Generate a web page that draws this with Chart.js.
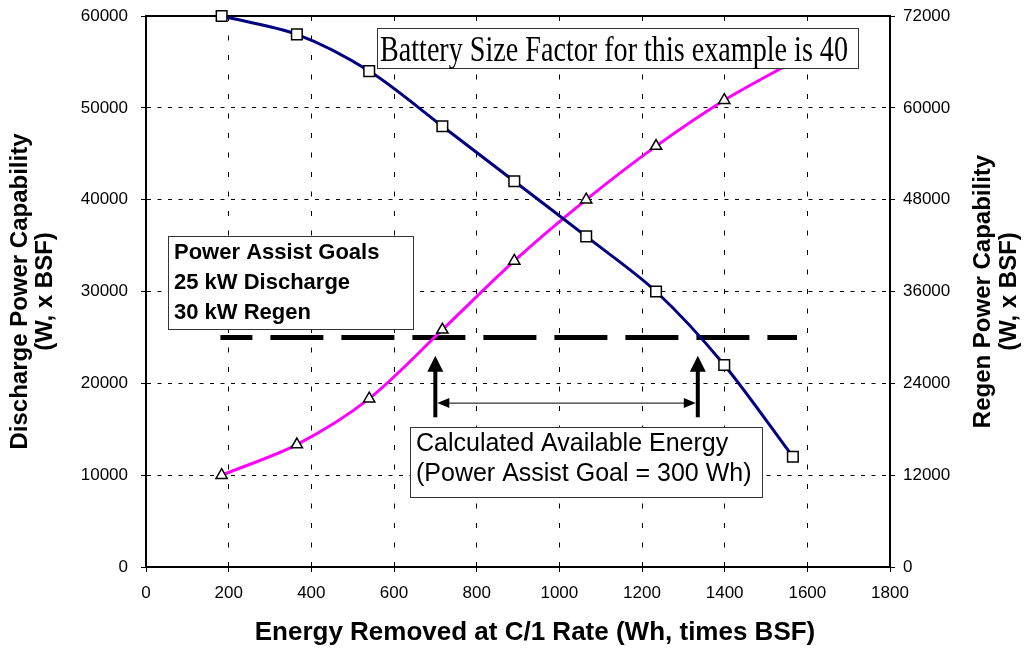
<!DOCTYPE html>
<html>
<head>
<meta charset="utf-8">
<script src="https://cdn.jsdelivr.net/npm/chart.js@4.4.0/dist/chart.umd.min.js"></script>
<style>
    html, body { margin: 0; padding: 0; background: #fff; }
    #wrap { width: 1029px; height: 651px; }
</style>
</head>
<body>
<div id="wrap"><canvas id="grafico"></canvas></div>
<script>
// energy removed at each test point (Wh, times BSF)
var energy = [183, 365, 540, 717, 891, 1065, 1234, 1399, 1565];
// discharge power, left axis (W, x BSF)
var discharge = [60000, 58000, 54000, 48000, 42000, 36000, 30000, 22000, 12000];
// regen power, right axis (W, x BSF)
var regen = [12000, 16000, 22000, 31000, 40000, 48000, 55000, 61000, 66000];

// 25 kW power assist goal line
var goalX = [180, 1575];
var goalY = [25000, 25000];

// where the available energy arrows sit (data units)
var arrowX = [700, 1335];
var arrowY = [16300, 23000];
var spanY = 17900;

var xTicks = [0, 200, 400, 600, 800, 1000, 1200, 1400, 1600, 1800];
var yTicks = [0, 10000, 20000, 30000, 40000, 50000, 60000];
var y2Ticks = [0, 12000, 24000, 36000, 48000, 60000, 72000];

var sans = '"Liberation Sans", Arial, sans-serif';

function toPoints(xs, ys) {
    return xs.map(function(v, i) { return { x: v, y: ys[i] }; });
}

function setTicks(list) {
    return function(scale) {
        scale.ticks = list.map(function(v) { return { value: v }; });
    };
}

// fixed axis width, and no extra room for the end labels
function fixWidth(w) {
    return function(s) {
        s.width = w;
        s.paddingTop = 0;
        s.paddingBottom = 0;
    };
}

function box(ctx, l, t, r, b) {
    ctx.fillStyle = '#fff';
    ctx.fillRect(l, t, r - l, b - t);
    ctx.strokeStyle = '#333';
    ctx.lineWidth = 1;
    ctx.strokeRect(l + 0.5, t + 0.5, r - l, b - t);
}

function upArrow(ctx, x, yBottom, yTip) {
    ctx.fillStyle = '#000';
    ctx.fillRect(x - 2, yTip + 14, 4, yBottom - yTip - 14);
    ctx.beginPath();
    ctx.moveTo(x, yTip);
    ctx.lineTo(x - 8, yTip + 16);
    ctx.lineTo(x + 8, yTip + 16);
    ctx.closePath();
    ctx.fill();
}

function sideHead(ctx, tipX, y, dir) {
    ctx.beginPath();
    ctx.moveTo(tipX, y);
    ctx.lineTo(tipX + dir * 12, y - 5);
    ctx.lineTo(tipX + dir * 12, y + 5);
    ctx.closePath();
    ctx.fill();
}

var annotations = {
    id: 'annotations',
    beforeDatasetsDraw: function(chart) {
        var ctx = chart.ctx;
        var a = chart.chartArea;
        ctx.save();
        ctx.strokeStyle = '#000';
        ctx.lineWidth = 2;
        ctx.beginPath();
        ctx.moveTo(a.left, a.top);
        ctx.lineTo(a.right, a.top);
        ctx.stroke();
        ctx.restore();
    },
    afterDatasetsDraw: function(chart) {
        var ctx = chart.ctx;
        var xs = chart.scales.x, ys = chart.scales.y;
        var a = chart.chartArea;
        ctx.save();

        // arrows for the calculated energy
        var x1 = xs.getPixelForValue(arrowX[0]);
        var x2 = xs.getPixelForValue(arrowX[1]);
        var yb = ys.getPixelForValue(arrowY[0]);
        var yt = ys.getPixelForValue(arrowY[1]);
        var ym = ys.getPixelForValue(spanY);
        upArrow(ctx, x1, yb, yt);
        upArrow(ctx, x2, yb, yt);
        ctx.strokeStyle = '#000';
        ctx.lineWidth = 1;
        ctx.beginPath();
        ctx.moveTo(x1 + 12, ym + 0.5);
        ctx.lineTo(x2 - 12, ym + 0.5);
        ctx.stroke();
        sideHead(ctx, x1 + 2, ym + 0.5, 1);
        sideHead(ctx, x2 - 2, ym + 0.5, -1);

        // battery size factor note (narrow serif, squeezed to fit the box)
        box(ctx, 377, 28, 858, 68);
        ctx.fillStyle = '#000';
        ctx.font = '35px "Liberation Serif", "Times New Roman", serif';
        ctx.textBaseline = 'alphabetic';
        ctx.textAlign = 'left';
        var note = 'Battery Size Factor for this example is 40';
        var w = ctx.measureText(note).width;
        ctx.save();
        ctx.translate(380, 61);
        ctx.scale(468 / w, 1);
        ctx.fillText(note, 0, 0);
        ctx.restore();

        // power assist goals
        box(ctx, 168, 236, 413, 329);
        ctx.fillStyle = '#000';
        ctx.font = 'bold 22px ' + sans;
        ctx.textBaseline = 'middle';
        ctx.fillText('Power Assist Goals', 174, 253);
        ctx.fillText('25 kW Discharge', 174, 283);
        ctx.fillText('30 kW Regen', 174, 313);

        // calculated energy
        box(ctx, 410, 427, 762, 497);
        ctx.fillStyle = '#000';
        ctx.font = '25px ' + sans;
        ctx.fillText('Calculated Available Energy', 416, 444);
        ctx.fillText('(Power Assist Goal = 300 Wh)', 416, 474);

        // x axis title, a little right of centre as in the source
        ctx.font = 'bold 26px ' + sans;
        ctx.textAlign = 'center';
        ctx.fillText('Energy Removed at C/1 Rate (Wh, times BSF)', 535, 633);

        // right axis title, read bottom to top like the left one
        ctx.font = 'bold 24px ' + sans;
        ctx.translate(a.right + 93, (a.top + a.bottom) / 2);
        ctx.rotate(-Math.PI / 2);
        ctx.fillText('Regen Power Capability', 0, 0);
        ctx.fillText('(W, x BSF)', 0, 26);
        ctx.restore();
    }
};

var ctx = document.getElementById('grafico');

new Chart(ctx, {
    type: 'line',
    data: {
        datasets: [{
            label: 'Discharge',
            data: toPoints(energy, discharge),
            yAxisID: 'y',
            borderColor: '#000080',
            borderWidth: 3,
            tension: 0.3,
            pointStyle: 'rect',
            pointRadius: 7.5,
            pointBorderWidth: 1.5,
            pointBorderColor: '#000',
            pointBackgroundColor: '#fff',
            clip: false
        }, {
            label: 'Regen',
            data: toPoints(energy, regen),
            yAxisID: 'y2',
            borderColor: '#ff00ff',
            borderWidth: 3,
            tension: 0.3,
            pointStyle: 'triangle',
            pointRadius: 6.5,
            pointBorderWidth: 1.5,
            pointBorderColor: '#000',
            pointBackgroundColor: '#fff',
            clip: false
        }, {
            label: 'Goal',
            data: toPoints(goalX, goalY),
            yAxisID: 'y',
            borderColor: '#000',
            borderWidth: 5,
            borderDash: [53, 18],
            borderDashOffset: 21,
            borderCapStyle: 'butt',
            pointRadius: 0,
            tension: 0
        }]
    },
    options: {
        responsive: true,
        maintainAspectRatio: false,
        animation: false,
        events: [],
        layout: { padding: { top: 16, left: 0, right: 0, bottom: 0 } },
        plugins: {
            legend: { display: false },
            tooltip: { enabled: false }
        },
        scales: {
            x: {
                type: 'linear',
                min: 0,
                max: 1800,
                afterBuildTicks: setTicks(xTicks),
                afterFit: function(s) { s.height = 84; },
                ticks: {
                    color: '#000',
                    font: { family: sans, size: 17 },
                    padding: 11,
                    maxRotation: 0,
                    callback: function(v) { return String(v); }
                },
                grid: {
                    color: function(c) {
                        return (c.tick.value === 0 || c.tick.value === 1800) ? 'rgba(0,0,0,0)' : '#000';
                    },
                    lineWidth: 1,
                    tickColor: '#000',
                    tickLength: 5
                },
                border: { color: '#000', width: 2, dash: [5, 14.5] }
            },
            y: {
                type: 'linear',
                position: 'left',
                min: 0,
                max: 60000,
                afterBuildTicks: setTicks(yTicks),
                afterFit: fixWidth(146),
                ticks: {
                    color: '#000',
                    font: { family: sans, size: 17 },
                    padding: 13,
                    callback: function(v) { return String(v); }
                },
                grid: {
                    color: function(c) {
                        return (c.tick.value === 0 || c.tick.value === 60000) ? 'rgba(0,0,0,0)' : '#000';
                    },
                    lineWidth: 1,
                    tickColor: '#000',
                    tickLength: 5
                },
                border: { color: '#000', width: 2, dash: [4, 6.5] },
                title: {
                    display: true,
                    text: ['Discharge Power Capability', '(W, x BSF)'],
                    color: '#000',
                    font: { family: sans, size: 24, weight: 'bold', lineHeight: 1.05 },
                    padding: { top: 8, bottom: 0 }
                }
            },
            y2: {
                type: 'linear',
                position: 'right',
                min: 0,
                max: 72000,
                afterBuildTicks: setTicks(y2Ticks),
                afterFit: fixWidth(139),
                ticks: {
                    color: '#000',
                    font: { family: sans, size: 17 },
                    padding: 8,
                    callback: function(v) { return String(v); }
                },
                grid: {
                    drawOnChartArea: false,
                    tickColor: '#000',
                    tickLength: 5
                },
                border: { color: '#000', width: 2 }
            }
        }
    },
    plugins: [annotations]
});
</script>
</body>
</html>
